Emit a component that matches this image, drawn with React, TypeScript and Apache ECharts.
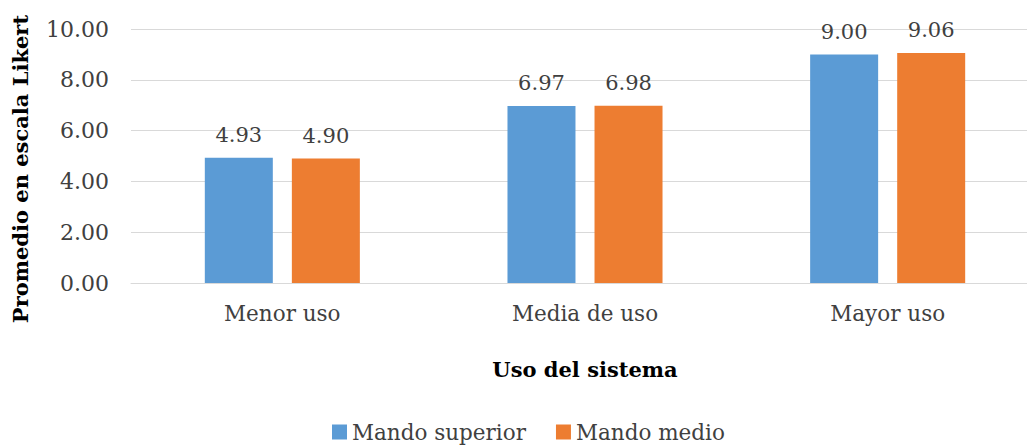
import React, { useEffect, useRef } from "react";
import * as echarts from "echarts";

const categories = ["Menor uso", "Media de uso", "Mayor uso"];
const mandoSuperior = [4.93, 6.97, 9.0];
const mandoMedio = [4.9, 6.98, 9.06];
const seriesNames = ["Mando superior", "Mando medio"];
const yAxisTitle = "Promedio en escala Likert";
const xAxisTitle = "Uso del sistema";

const FONT = "DejaVu Serif";
const TEXT = "#404040";

export default function App() {
  const ref = useRef<HTMLDivElement>(null);
  useEffect(() => {
    if (!ref.current) return;
    const chart = echarts.init(ref.current, undefined, { renderer: "svg" });
    const label = {
      show: true,
      position: "top",
      distance: 12,
      fontFamily: FONT,
      fontSize: 21,
      color: TEXT,
      formatter: (p: any) => Number(p.value).toFixed(2),
    };
    chart.setOption({
      animation: false,
      backgroundColor: "#ffffff",
      textStyle: { fontFamily: FONT },
      grid: {
        left: 131,
        width: 908,
        top: 29,
        bottom: 162,
        containLabel: false,
        outerBoundsMode: "none",
      },
      legend: {
        bottom: -3,
        left: 327,
        itemWidth: 15,
        itemHeight: 15,
        itemGap: 30,
        icon: "rect",
        textStyle: { fontFamily: FONT, fontSize: 21.5, color: TEXT },
        data: seriesNames,
      },
      xAxis: {
        type: "category",
        data: categories,
        axisTick: { show: false },
        axisLine: { lineStyle: { color: "#D9D9D9", width: 1 } },
        axisLabel: { fontFamily: FONT, fontSize: 21.5, color: TEXT, margin: 19 },
        name: xAxisTitle,
        nameLocation: "middle",
        nameGap: 76,
        nameTextStyle: { fontFamily: FONT, fontSize: 21, fontWeight: "bold", color: "#000" },
      },
      yAxis: {
        type: "value",
        min: 0,
        max: 10,
        interval: 2,
        axisLine: { show: false },
        axisTick: { show: false },
        splitLine: { lineStyle: { color: "#D9D9D9", width: 1 } },
        axisLabel: {
          fontFamily: FONT,
          fontSize: 22,
          color: TEXT,
          margin: 22,
          formatter: (v: number) => v.toFixed(2),
        },
      },
      graphic: [
        {
          type: "text",
          x: 20,
          y: 169,
          rotation: Math.PI / 2,
          style: {
            text: yAxisTitle,
            fontFamily: FONT,
            fontSize: 21,
            fontWeight: "bold",
            fill: "#000",
            textAlign: "center",
            textVerticalAlign: "middle",
          },
        },
      ],
      series: [
        {
          name: seriesNames[0],
          type: "bar",
          data: mandoSuperior,
          barWidth: 68,
          barGap: "28%",
          itemStyle: { color: "#5B9BD5" },
          label,
        },
        {
          name: seriesNames[1],
          type: "bar",
          data: mandoMedio,
          barWidth: 68,
          barGap: "28%",
          itemStyle: { color: "#ED7D31" },
          label,
        },
      ],
    });
    return () => chart.dispose();
  }, []);
  return (
    <div
      ref={ref}
      style={{ position: "fixed", left: 0, top: 0, width: 1027, height: 445 }}
    />
  );
}
